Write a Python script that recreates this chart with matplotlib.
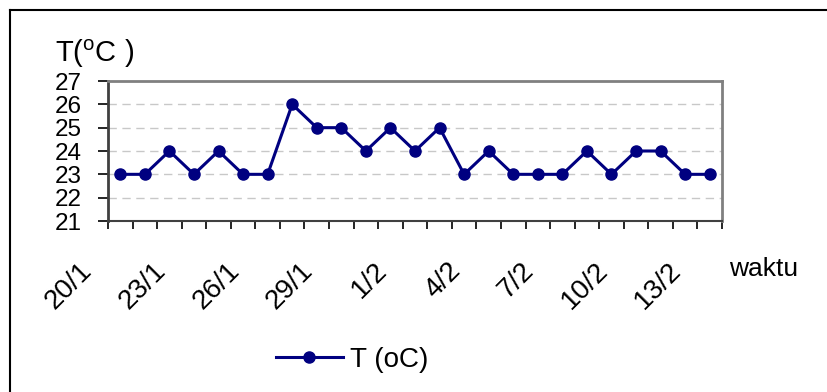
import matplotlib
matplotlib.use("Agg")
import matplotlib.pyplot as plt
from matplotlib.lines import Line2D
from matplotlib.transforms import ScaledTranslation

plt.rcParams['font.family'] = ['Liberation Sans', 'DejaVu Sans']

dates = ["20/1", "21/1", "22/1", "23/1", "24/1", "25/1", "26/1", "27/1", "28/1",
         "29/1", "30/1", "31/1", "1/2", "2/2", "3/2", "4/2", "5/2", "6/2", "7/2",
         "8/2", "9/2", "10/2", "11/2", "12/2", "13/2"]
temps = [23, 23, 24, 23, 24, 23, 23, 26, 25, 25, 24, 25, 24, 25, 23, 24, 23, 23,
         23, 24, 23, 24, 24, 23, 23]
yticks = [21, 22, 23, 24, 25, 26, 27]
series_label = "T (oC)"

W, H = 827, 392
fig = plt.figure(figsize=(W / 100, H / 100), dpi=100)

# outer chart frame (left and top edges visible)
fig.add_artist(Line2D([10 / W, 10 / W], [0, 1 - 10 / H], color='black', lw=1.5,
                      transform=fig.transFigure))
fig.add_artist(Line2D([10 / W, 1], [1 - 10 / H, 1 - 10 / H], color='black', lw=1.5,
                      transform=fig.transFigure))

left, right, top, bottom = 108, 722, 81, 221
ax = fig.add_axes([left / W, 1 - bottom / H, (right - left) / W, (bottom - top) / H])

x = list(range(len(dates)))
line_color = '#000080'
ax.plot(x, temps, color=line_color, lw=2.2, marker='o', markersize=8,
        markerfacecolor=line_color, markeredgecolor=line_color, label=series_label,
        zorder=3, clip_on=False)

ax.set_xlim(-0.5, len(dates) - 0.5)
ax.set_ylim(21, 27)
ax.set_yticks(yticks)
ax.set_yticklabels([str(v) for v in yticks], fontsize=17.5)
ax.tick_params(axis='y', direction='out', length=7, width=1.2, pad=12, color='black')

for v in yticks[1:-1]:
    ax.axhline(v, color='#c8c8c8', lw=1, ls=(0, (6, 4)), zorder=1)

# category boundary ticks
ax.set_xticks([i - 0.5 for i in range(len(dates) + 1)], minor=True)
ax.tick_params(axis='x', which='minor', direction='out', length=6, width=1.2, color='black')
major = x[::3]
ax.set_xticks(major)
ax.set_xticklabels([dates[i] for i in major], fontsize=20, rotation=45,
                   ha='right', va='top')
ax.tick_params(axis='x', which='major', length=0, pad=0)
offset = ScaledTranslation(-23 / 100, -37 / 100, fig.dpi_scale_trans)
for lab in ax.get_xticklabels():
    lab.set_transform(lab.get_transform() + offset)

for s in ['top', 'right']:
    ax.spines[s].set_color('#808080')
    ax.spines[s].set_linewidth(2)
ax.spines['left'].set_color('#404040')
ax.spines['left'].set_linewidth(2)
ax.spines['bottom'].set_color('#404040')
ax.spines['bottom'].set_linewidth(1.5)

fig.text(55 / W, 1 - 54 / H, r"T($\mathregular{^o}$C )", fontsize=21, va='center', ha='left')

fig.text(729 / W, 1 - 269 / H, "waktu", fontsize=19, va='center', ha='left')

leg = fig.legend(loc='center left', bbox_to_anchor=(276 / W, 1 - 360 / H), frameon=False,
                 fontsize=20, handlelength=2.4, handletextpad=0.25, borderaxespad=0,
                 borderpad=0)

fig.savefig("out.png", dpi=100)
